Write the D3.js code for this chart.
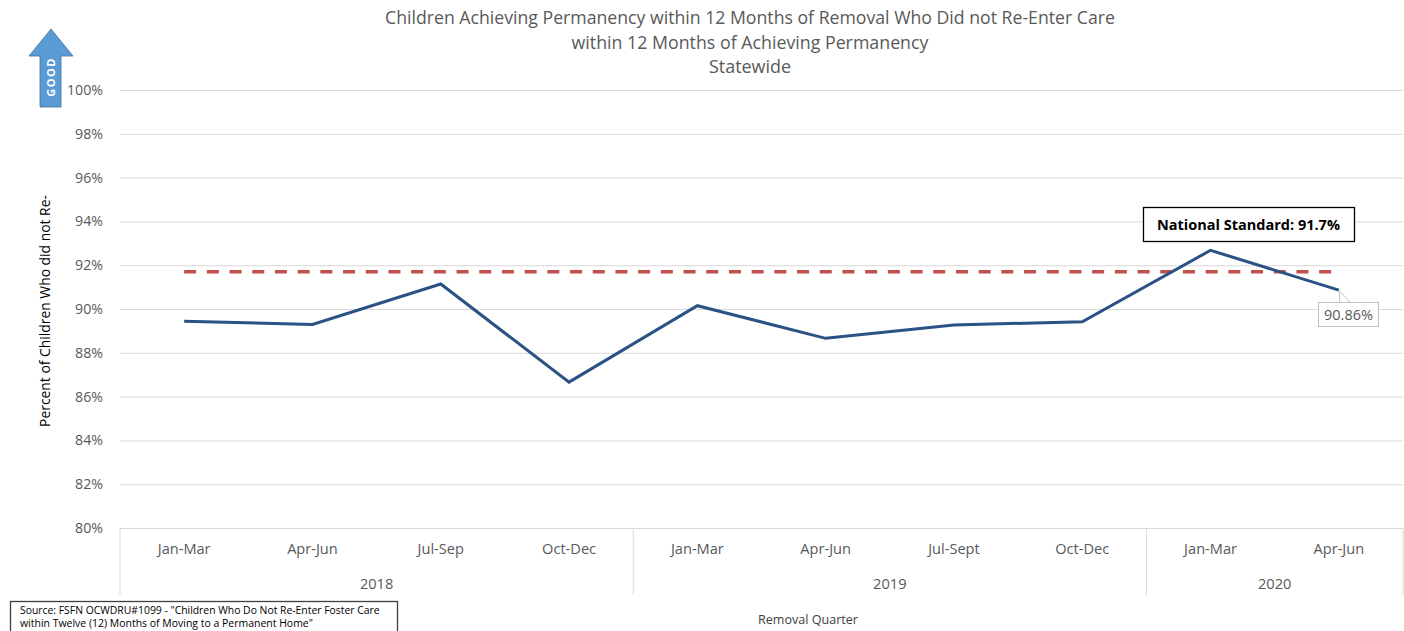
<!DOCTYPE html>
<html>
<head>
<meta charset="utf-8">
<script src="https://cdn.jsdelivr.net/npm/d3@7"></script>
<style>
  html, body { margin: 0; padding: 0; background: #ffffff; }
  svg { display: block; font-family: "Open Sans", "Liberation Sans", sans-serif; }
</style>
</head>
<body>
<svg id="chart" width="1404" height="631"></svg>
<script>
// ---- Data ----
const quarters = ["Jan-Mar", "Apr-Jun", "Jul-Sep", "Oct-Dec", "Jan-Mar", "Apr-Jun", "Jul-Sept", "Oct-Dec", "Jan-Mar", "Apr-Jun"];
const years = ["2018", "2019", "2020"];
const yearSpans = [4, 4, 2];
const values = [89.44, 89.29, 91.14, 86.66, 90.15, 88.66, 89.27, 89.42, 92.68, 90.86];
const nationalStandard = 91.7;
const yTicks = [80, 82, 84, 86, 88, 90, 92, 94, 96, 98, 100];
const titleLines = [
  "Children Achieving Permanency within 12 Months of Removal Who Did not Re-Enter Care",
  "within 12 Months of Achieving Permanency",
  "Statewide"
];
const yTitle = "Percent of Children Who did not Re-";
const xTitle = "Removal Quarter";
const standardLabel = "National Standard: 91.7%";
const lastLabel = "90.86%";
const sourceLines = [
  "Source: FSFN OCWDRU#1099 - \"Children Who Do Not Re-Enter Foster Care",
  "within Twelve (12) Months of Moving to a Permanent Home\""
];

// ---- Layout ----
const svg = d3.select("#chart");
const L = 120, R = 1403, T = 90, B = 528;
const x = d3.scaleBand().domain(d3.range(quarters.length)).range([L, R]).padding(0);
const cx = i => x(i) + x.bandwidth() / 2;
const y = d3.scaleLinear().domain([80, 100]).range([B, T]);

// helper: scale font size so text reaches a target width
function fitWidth(sel, target) {
  sel.each(function () {
    const w = this.getComputedTextLength();
    if (w > 0) {
      const fs = parseFloat(d3.select(this).attr("font-size"));
      d3.select(this).attr("font-size", (fs * target / w).toFixed(2));
    }
  });
}

// ---- Gridlines ----
const grid = svg.append("g").attr("transform", `translate(${L},0)`)
  .call(d3.axisLeft(y).tickValues(yTicks).tickSize(-(R - L)).tickFormat(""));
grid.select(".domain").remove();
grid.selectAll(".tick line").attr("stroke", "#d9d9d9").attr("stroke-width", 1);

// ---- Y axis labels ----
const yAxis = svg.append("g").attr("transform", `translate(${L},0)`)
  .call(d3.axisLeft(y).tickValues(yTicks).tickSize(0).tickPadding(17).tickFormat(d => d + "%"));
yAxis.select(".domain").remove();
yAxis.selectAll("text")
  .attr("fill", "#595959")
  .attr("font-family", "'Open Sans', sans-serif")
  .attr("font-size", 14.2);

// ---- X axis (multi-level) ----
const xAxis = svg.append("g").attr("transform", `translate(0,${B + 16})`)
  .call(d3.axisBottom(x).tickSize(0).tickPadding(0).tickFormat(i => quarters[i]));
xAxis.select(".domain").remove();
xAxis.selectAll("text")
  .attr("fill", "#595959")
  .attr("font-family", "'Open Sans', sans-serif")
  .attr("font-size", 14.6);

// group separators
let acc = 0;
const bounds = [0];
yearSpans.forEach(s => { acc += s; bounds.push(acc); });
const sepX = bounds.map(b => b < quarters.length ? x(b) : R);
svg.append("g").selectAll("line").data(sepX).join("line")
  .attr("x1", d => d).attr("x2", d => d)
  .attr("y1", B).attr("y2", 595)
  .attr("stroke", "#d9d9d9").attr("stroke-width", 1);

svg.append("g").selectAll("text").data(years).join("text")
  .attr("x", (d, i) => (sepX[i] + sepX[i + 1]) / 2)
  .attr("y", 589)
  .attr("text-anchor", "middle")
  .attr("fill", "#595959")
  .attr("font-size", 14.6)
  .text(d => d);

// ---- National standard line ----
svg.append("line")
  .attr("x1", cx(0)).attr("x2", cx(quarters.length - 1))
  .attr("y1", y(nationalStandard)).attr("y2", y(nationalStandard))
  .attr("stroke", "#c0504d").attr("stroke-width", 3.5)
  .attr("stroke-dasharray", "12,10.7");

// ---- Data line ----
svg.append("path")
  .datum(values)
  .attr("fill", "none")
  .attr("stroke", "#2a5284")
  .attr("stroke-width", 3)
  .attr("stroke-linejoin", "miter")
  .attr("d", d3.line().x((d, i) => cx(i)).y(d => y(d)));

// ---- Annotation: National Standard ----
const annX = 1143, annY = 207, annW = 211, annH = 34;
svg.append("rect").attr("x", annX + 0.5).attr("y", annY + 0.5).attr("width", annW).attr("height", annH)
  .attr("fill", "#ffffff").attr("stroke", "#000000").attr("stroke-width", 1.3);
const annT = svg.append("text")
  .attr("x", annX + annW / 2).attr("y", annY + 23)
  .attr("text-anchor", "middle").attr("font-weight", "bold")
  .attr("font-size", 14).attr("fill", "#000000")
  .text(standardLabel);
fitWidth(annT, 183);

// ---- Last value label ----
const li = values.length - 1;
const lx = 1318, ly = 302, lw = 60, lh = 24;
svg.append("path")
  .attr("d", `M${cx(li)},${y(values[li])} L${lx + 22},${ly} M${cx(li)},${y(values[li])} L${lx + 32},${ly}`)
  .attr("stroke", "#bfbfbf").attr("stroke-width", 1).attr("fill", "none");
svg.append("rect").attr("x", lx + 0.5).attr("y", ly + 0.5).attr("width", lw).attr("height", lh)
  .attr("fill", "#ffffff").attr("stroke", "#bfbfbf").attr("stroke-width", 1);
const lt = svg.append("text")
  .attr("x", lx + lw / 2 + 0.5).attr("y", ly + 18)
  .attr("text-anchor", "middle").attr("font-size", 13.5).attr("fill", "#595959")
  .text(lastLabel);
fitWidth(lt, 49);

// ---- Title ----
const titleY = [24, 49, 73];
const titleW = [730, 357, 82];
titleLines.forEach((t, i) => {
  const el = svg.append("text")
    .attr("x", 750).attr("y", titleY[i])
    .attr("text-anchor", "middle").attr("font-size", 16).attr("fill", "#595959")
    .text(t);
  fitWidth(el, titleW[i]);
});

// ---- Axis titles ----
const yt = svg.append("text")
  .attr("transform", `translate(50,311) rotate(-90)`)
  .attr("text-anchor", "middle").attr("font-size", 13.5).attr("fill", "#000000")
  .text(yTitle);
fitWidth(yt, 232);

const xt = svg.append("text")
  .attr("x", 808).attr("y", 624)
  .attr("text-anchor", "middle").attr("font-size", 11).attr("fill", "#404040")
  .text(xTitle);
fitWidth(xt, 100);

// ---- Source box ----
svg.append("rect").attr("x", 10.5).attr("y", 601.5).attr("width", 387).attr("height", 40)
  .attr("fill", "#ffffff").attr("stroke", "#404040").attr("stroke-width", 1.3);
const srcW = [360, 293];
sourceLines.forEach((t, i) => {
  const el = svg.append("text")
    .attr("x", 20).attr("y", 614 + i * 13)
    .attr("font-size", 10).attr("fill", "#000000")
    .text(t);
  fitWidth(el, srcW[i]);
});

// ---- GOOD arrow ----
const arrow = svg.append("g");
arrow.append("path")
  .attr("d", "M51,29 L73,56 L61,56 L61,107 L40,107 L40,56 L29,56 Z")
  .attr("fill", "#5b9bd5").attr("stroke", "#41719c").attr("stroke-width", 0.8);
const good = arrow.append("text")
  .attr("transform", "translate(54.5,77) rotate(-90)")
  .attr("text-anchor", "middle").attr("font-weight", "bold")
  .attr("font-size", 10.5).attr("fill", "#ffffff")
  .attr("letter-spacing", 1.5)
  .text("GOOD");
fitWidth(good, 40);
</script>
</body>
</html>
